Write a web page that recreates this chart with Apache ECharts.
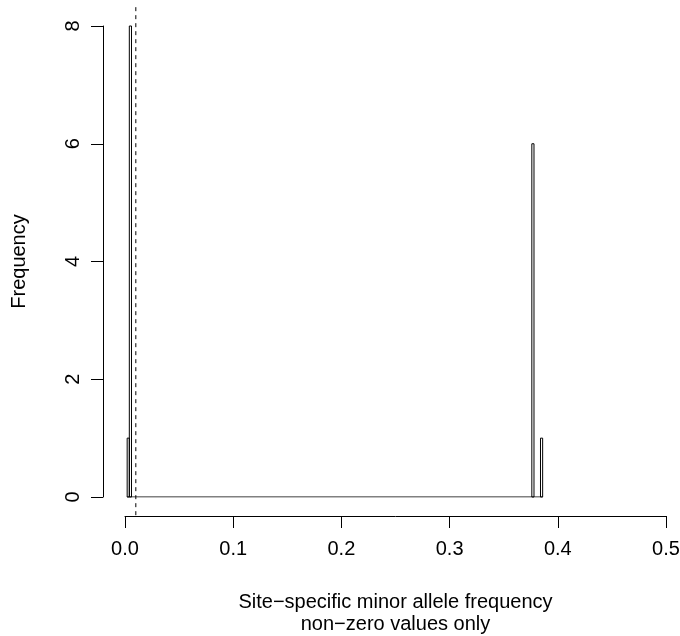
<!DOCTYPE html>
<html>
<head>
<meta charset="utf-8">
<script src="https://cdn.jsdelivr.net/npm/echarts@6/dist/echarts.min.js"></script>
<style>
  html, body { margin: 0; padding: 0; background: #fff; }
  #chart { width: 680px; height: 636px; }
</style>
</head>
<body>
<div id="chart"></div>
<script>
// histogram bins that are not empty (bin width 0.002)
var binStart = [0.002, 0.004, 0.376, 0.384];
var binEnd = [0.004, 0.006, 0.378, 0.386];
var binCount = [1, 8, 6, 1];
// the rest of the bins between the first and last break are empty
var histRange = [0.002, 0.386];
// vertical dashed reference line
var cutoff = 0.01;
var xTicks = [0, 0.1, 0.2, 0.3, 0.4, 0.5];
var yTicks = [0, 2, 4, 6, 8];

var font = '"Liberation Sans", Arial, Helvetica, sans-serif';
var fs = 20;

var myChart = echarts.init(document.getElementById('chart'));

var bars = [];
for (var i = 0; i < binCount.length; i++) {
    bars.push([binStart[i], binEnd[i], binCount[i]]);
}

var yTop = yTicks[yTicks.length - 1];
var yPad = (yTop - yTicks[0]) * 0.04;

var option = {
    animation: false,
    grid: { left: 125, right: 14, top: 26, bottom: 139, outerBoundsMode: 'none', containLabel: false },
    xAxis: {
        type: 'value',
        min: xTicks[0],
        max: xTicks[xTicks.length - 1],
        interval: 0.1,
        offset: 19,
        splitLine: { show: false },
        axisLine: { onZero: false, lineStyle: { color: '#000', width: 1 } },
        axisTick: { length: 12, lineStyle: { color: '#000' } },
        axisLabel: {
            margin: 23, color: '#000', fontFamily: font, fontSize: fs,
            formatter: function (v) { return v.toFixed(1); }
        },
        name: 'Site\u2212specific minor allele frequency\nnon\u2212zero values only',
        nameLocation: 'middle',
        nameGap: 75,
        nameTextStyle: { color: '#000', fontFamily: font, fontSize: fs, lineHeight: 22 }
    },
    yAxis: {
        type: 'value',
        min: yTicks[0],
        max: yTop,
        interval: 2,
        offset: 22,
        splitLine: { show: false },
        axisLine: { show: true, onZero: false, lineStyle: { color: '#000', width: 1 } },
        axisTick: { show: true, length: 12, lineStyle: { color: '#000' } },
        axisLabel: {
            rotate: 90, margin: 20, color: '#000', fontFamily: font, fontSize: fs
        },
        name: 'Frequency',
        nameLocation: 'middle',
        nameGap: 74,
        nameTextStyle: { color: '#000', fontFamily: font, fontSize: fs }
    },
    series: [
        {
            // empty bins: drawn as a line along zero
            type: 'line',
            data: [[histRange[0], 0], [histRange[1], 0]],
            symbol: 'none',
            lineStyle: { color: '#000', width: 1 },
            silent: true
        },
        {
            type: 'custom',
            data: bars,
            clip: false,
            renderItem: function (params, api) {
                var p0 = api.coord([api.value(0), api.value(2)]);
                var p1 = api.coord([api.value(1), 0]);
                return {
                    type: 'rect',
                    shape: { x: p0[0], y: p0[1], width: p1[0] - p0[0], height: p1[1] - p0[1] },
                    style: { fill: 'none', stroke: '#000', lineWidth: 1 }
                };
            }
        },
        {
            type: 'custom',
            data: [[cutoff]],
            clip: false,
            renderItem: function (params, api) {
                var a = api.coord([api.value(0), yTop + yPad]);
                var b = api.coord([api.value(0), yTicks[0] - yPad]);
                return {
                    type: 'line',
                    shape: { x1: a[0], y1: a[1], x2: b[0], y2: b[1] },
                    style: { stroke: '#000', lineWidth: 1, lineDash: [4, 4] }
                };
            }
        }
    ]
};

myChart.setOption(option);
</script>
</body>
</html>
